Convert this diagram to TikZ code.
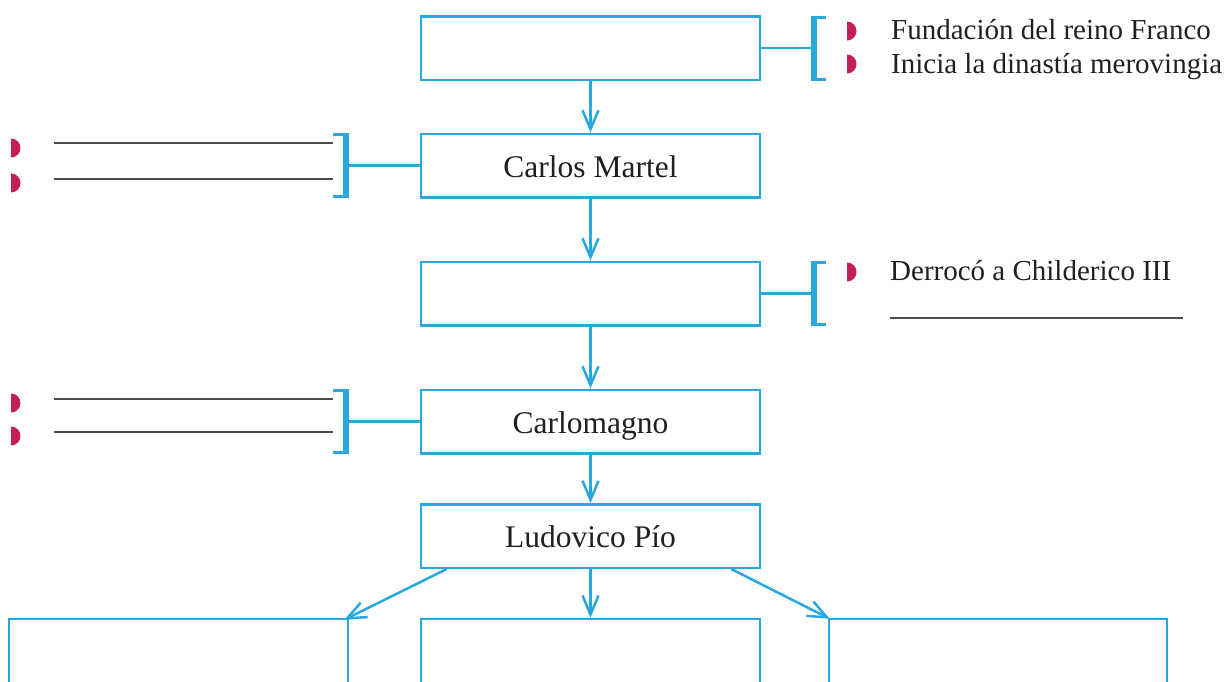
\documentclass[tikz,border=0pt]{standalone}
\usepackage{fontspec}
\setmainfont{Liberation Serif}
\usetikzlibrary{arrows.meta,calc}
\definecolor{cblue}{RGB}{41,168,224}
\definecolor{cbul}{RGB}{196,30,86}
\definecolor{ctext}{RGB}{35,31,32}
\definecolor{cline}{RGB}{77,77,77}
\begin{document}
\begin{tikzpicture}[x=1pt,y=-1pt,
  box/.style={draw=cblue,line width=2.5pt,minimum width=339pt,minimum height=63.5pt,inner sep=0pt,text=ctext,font=\fontsize{31.5}{36}\selectfont,text height=23pt,text depth=0pt},
  arr/.style={draw=cblue,line width=2.5pt,-{Straight Barb[length=19pt,width=16pt]}},
  conn/.style={draw=cblue,line width=2.5pt},
  blank/.style={draw=cline,line width=1.8pt},
  btext/.style={anchor=base west,inner sep=0pt,text=ctext,font=\fontsize{29}{34}\selectfont},
  bul/.pic={\fill[cbul] (0,-9.5) arc[start angle=90,end angle=-90,radius=9.5pt] -- cycle;},
  brkR/.pic={\draw[cblue,line width=6pt] (0,-32.5) -- (0,32.5);
             \draw[cblue,line width=3pt] (-13,-31) -- (3,-31) (-13,31) -- (3,31);},
  brkL/.pic={\draw[cblue,line width=6pt] (0,-32.5) -- (0,32.5);
             \draw[cblue,line width=3pt] (-3,-31) -- (12.5,-31) (-3,31) -- (12.5,31);}
]
\useasboundingbox (0,0) rectangle (1227,681);
\clip (0,0) rectangle (1227,681);

% main column
\node[box] (b1) at (590.5,48) {};
\node[box] (b2) at (590.5,165.5) {Carlos Martel};
\node[box] (b3) at (590.5,293.5) {};
\node[box] (b4) at (590.5,421.5) {Carlomagno};
\node[box] (b5) at (590.5,536) {Ludovico Pío};
\node[box,minimum height=140pt] (b6) at (178.5,689) {};
\node[box,minimum height=140pt] (b7) at (590.5,689) {};
\node[box,minimum height=140pt,minimum width=338pt] (b8) at (998,689) {};

% arrows
\draw[arr] (b1) -- (b2);
\draw[arr] (b2) -- (b3);
\draw[arr] (b3) -- (b4);
\draw[arr] (b4) -- (b5);
\draw[arr] (b5.south) -- (b7.north);
\draw[arr] ($(b5.south west)+(27,0)$) -- ([shift={(-5,2)}]b6.north east);
\draw[arr] ($(b5.south east)+(-30,0)$) -- ([shift={(2,1)}]b8.north west);

% right brackets
\coordinate (k1) at (813.5,48);
\coordinate (k3) at (813.5,293.5);
\pic at (k1) {brkL};
\pic at (k3) {brkL};
\draw[conn] (b1.east) -- (k1);
\draw[conn] (b3.east) -- (k3);

% left brackets
\coordinate (k2) at (346,165.5);
\coordinate (k4) at (346,421.5);
\pic at (k2) {brkR};
\pic at (k4) {brkR};
\draw[conn] (b2.west) -- (k2);
\draw[conn] (b4.west) -- (k4);

% right texts
\pic at (847,31) {bul};
\node[btext] (t1) at (891,39) {Fundación del reino Franco};
\pic at (847,64) {bul};
\node[btext] (t2) at (891,73) {Inicia la dinastía merovingia};
\pic at (847,272) {bul};
\node[btext] (t3) at (890,280) {Derrocó a Childerico III};
\draw[blank] (890,318) -- (1183,318);

% left blanks
\pic at (11,148) {bul};
\pic at (11,183) {bul};
\pic at (11,403) {bul};
\pic at (11,436) {bul};
\draw[blank] (54,143) -- (333,143);
\draw[blank] (54,179) -- (333,179);
\draw[blank] (54,399) -- (333,399);
\draw[blank] (54,432) -- (333,432);
\end{tikzpicture}
\end{document}
